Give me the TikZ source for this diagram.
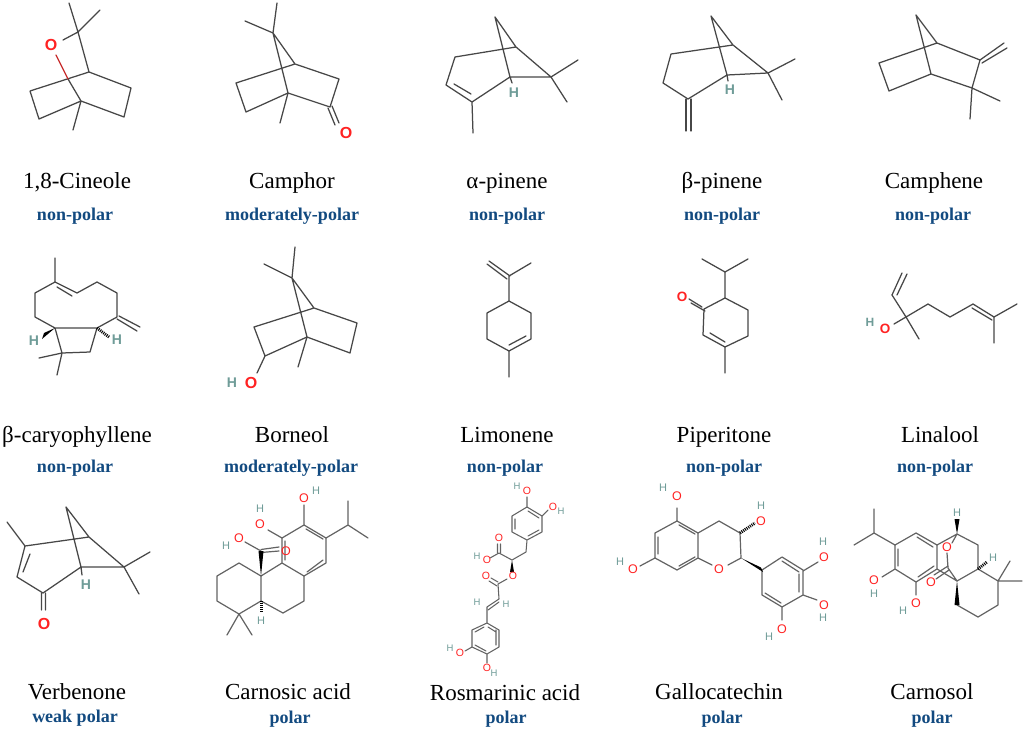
\documentclass[tikz,border=0pt]{standalone}
\usepackage{fontspec}
\setmainfont{Liberation Serif}
\newfontfamily\atomfont{Liberation Sans}
\definecolor{bondc}{HTML}{474747}
\definecolor{oxy}{HTML}{FF2222}
\definecolor{hyd}{HTML}{6F9C98}
\definecolor{polc}{HTML}{124A80}
\tikzset{
  bond/.style={draw=bondc,line width=1.25pt,line cap=round,line join=round},
  thin bond/.style={draw=bondc!85,line width=1.2pt,line cap=round,line join=round},
  fine bond/.style={draw=bondc!85,line width=1.05pt,line cap=round,line join=round},
  red bond/.style={draw=oxy!70!bondc,line width=1.25pt,line cap=round},
  wedge/.style={fill=black,draw=none},
  hash/.style={draw=black,line width=3pt,dash pattern=on 1pt off 1pt},
  cname/.style={inner sep=0pt,anchor=base,font=\fontsize{23}{24}\selectfont,text=black},
  pol/.style={inner sep=0pt,anchor=base,font=\fontsize{18}{20}\selectfont\bfseries,text=polc},
  O/.style={inner sep=0pt,text=oxy,font=\atomfont\bfseries\fontsize{16}{16}\selectfont},
  H/.style={inner sep=0pt,text=hyd,font=\atomfont\bfseries\fontsize{14}{14}\selectfont},
  Om/.style={inner sep=0pt,text=oxy,font=\atomfont\bfseries\fontsize{13.5}{14}\selectfont},
  Hm/.style={inner sep=0pt,text=hyd,font=\atomfont\bfseries\fontsize{12}{12}\selectfont},
  o/.style={inner sep=0pt,text=oxy,font=\atomfont\fontsize{12.5}{13}\selectfont},
  h/.style={inner sep=0pt,text=hyd,font=\atomfont\fontsize{11}{11}\selectfont},
  os/.style={inner sep=0pt,text=oxy,font=\atomfont\fontsize{10.5}{11}\selectfont},
  hs/.style={inner sep=0pt,text=hyd,font=\atomfont\fontsize{9.5}{10}\selectfont}
}
\begin{document}
\begin{tikzpicture}[x=1pt,y=-1pt]
\useasboundingbox[fill=white] (0,0) rectangle (1024,730);

% ---- row 1 ----
% 1,8-Cineole
\draw[bond] (69,3)--(78,32)--(100,10) (78,32)--(89,72)--(131,88)--(124,117)--(81,101)--(73,130)
  (81,101)--(39,119)--(30,91)--(89,72) (68,79)--(81,101) (78,32)--(63,40);
\draw[red bond] (56,55)--(68,79);
\node[O] (o1) at (51,45) {O};
% Camphor
\draw[bond] (277,3)--(273,33)--(245,21) (273,33)--(295,64)--(339,79)--(330,107)--(288,93)--(280,123)
  (288,93)--(246,112)--(236,83)--(295,64) (273,33)--(288,93);
\draw[bond] (328,108)--(335,125) (332,106)--(339,123);
\node[O] (o2) at (346,133) {O};
% alpha-pinene
\draw[bond] (495,17)--(516,47)--(455,57)--(446,85)--(472,102)--(510,77)--(551,77)--(516,47)
  (495,17)--(510,77) (551,77)--(578,60) (551,77)--(567,102) (472,102)--(473,133) (510,77)--(512,83);
\draw[bond] (454,84)--(471,94);
\node[H] (h3) at (514,93) {H};
% beta-pinene
\draw[bond] (711,16)--(733,45)--(671,54)--(663,83)--(688,99)--(727,75)--(768,73)--(733,45)
  (711,16)--(727,75) (768,73)--(795,59) (768,73)--(782,100) (727,75)--(728,81);
\draw[bond] (686,99)--(686,131) (691,99)--(691,131);
\node[H] (h4) at (730,90) {H};
% Camphene
\draw[bond] (916,15)--(937,43)--(879,63)--(889,91)--(931,74)--(972,88)--(980,60)--(937,43)
  (916,15)--(931,74) (972,88)--(1000,101) (972,88)--(970,119);
\draw[bond] (980,60)--(1004,43) (982,63)--(1007,48);

\node[cname] (n1) at (77,188.5) {1,8-Cineole};
\node[cname] (n2) at (292,188.5) {Camphor};
\node[cname] (n3) at (507,188.5) {α-pinene};
\node[cname] (n4) at (722,188.5) {β-pinene};
\node[cname] (n5) at (934,188.5) {Camphene};
\node[pol] (p1) at (75,220) {non-polar};
\node[pol] (p2) at (292,220) {moderately-polar};
\node[pol] (p3) at (507,220) {non-polar};
\node[pol] (p4) at (722,220) {non-polar};
\node[pol] (p5) at (933,220) {non-polar};

% ---- row 2 ----
% beta-caryophyllene
\draw[bond] (55,258)--(55,282)--(35,293)--(35,317)--(55,328)--(97,328)--(117,317)--(117,293)--(97,282)--(77,293)--(55,282)
  (55,328)--(62,353)--(90,352)--(97,328) (62,353)--(39,358) (62,353)--(57,375);
\draw[bond] (57,287)--(72,296) (119,316)--(140,327) (117,319)--(137,331);
\fill[wedge] (55,328)--(44,333)--(42,339)--cycle;
\draw[hash] (97,328)--(109,337);
\node[H] (h6a) at (34,341) {H};
\node[H] (h6b) at (117,340) {H};
% Borneol
\draw[bond] (295,247)--(292,278)--(264,264) (292,278)--(314,308)--(357,323)--(350,353)--(307,337)--(298,367)
  (307,337)--(265,356)--(254,327)--(314,308) (292,278)--(307,337) (265,356)--(257,373);
\node[O] (o7) at (251,383) {O};
\node[H] (h7) at (232,383) {H};
% Limonene
\draw[bond] (531,263)--(509,276)--(509,301)--(531,313)--(531,339)--(509,351)--(487,339)--(487,313)--(509,301) (509,351)--(509,377);
\draw[bond] (510,276)--(489,261) (507,279)--(487,264) (526,336)--(509,345);
% Piperitone
\draw[bond] (702,259)--(725,272)--(748,259) (725,272)--(725,298)--(748,310)--(748,336)--(725,347)--(703,335)--(704,309)--(725,298) (725,347)--(725,373);
\draw[bond] (710,333)--(725,342) (705,311)--(691,303) (702,307)--(689,299);
\node[Om] (o9) at (682,297) {O};
% Linalool
\draw[bond] (892,295)--(906,317)--(928,304)--(950,317)--(973,304)--(994,317)--(1017,304) (994,317)--(994,343) (906,317)--(919,339) (906,317)--(894,324);
\draw[bond] (892,295)--(902,273) (897,295)--(907,274) (972,308)--(992,320);
\node[Om] (o10) at (885,329) {O};
\node[Hm] (h10) at (870,322) {H};

\node[cname] (n6) at (77,442.5) {β-caryophyllene};
\node[cname] (n7) at (292,442.5) {Borneol};
\node[cname] (n8) at (507,442.5) {Limonene};
\node[cname] (n9) at (724,442) {Piperitone};
\node[cname] (n10) at (940,442) {Linalool};
\node[pol] (p6) at (75,472) {non-polar};
\node[pol] (p7) at (291,472) {moderately-polar};
\node[pol] (p8) at (505,472) {non-polar};
\node[pol] (p9) at (724,472) {non-polar};
\node[pol] (p10) at (935,472) {non-polar};

% ---- row 3 ----
% Verbenone
\draw[bond] (66,507)--(89,537)--(25,546)--(17,577)--(43,593)--(81,567)--(124,567)--(89,537)
  (66,507)--(81,567) (25,546)--(7,522) (124,567)--(150,552) (124,567)--(139,594) (81,567)--(82,575);
\draw[bond] (30,554)--(23,572) (41.5,593)--(41.5,610) (45.5,593)--(45.5,610);
\node[O] (o11) at (44,624) {O};
\node[H] (h11) at (86,585) {H};
% Carnosic acid
\draw[thin bond] (261,576)--(239,563)--(217,576)--(217,601)--(239,614)--(261,601)--(261,576)
  (261,576)--(282,563)--(304,576)--(304,601)--(283,613)--(261,601)
  (282,563)--(282,538)--(304,525)--(326,538)--(326,563)--(304,576)
  (326,538)--(348,525)--(348,501) (348,525)--(368,538) (304,525)--(304,505) (282,538)--(268,530)
  (261,551)--(245,542) (239,614)--(227,635) (239,614)--(252,635);
\draw[thin bond] (285,541)--(285,560) (306,529)--(323,539) (323,560)--(307,572)
  (261,549.5)--(279,547) (261,552.5)--(279,551);
\fill[wedge] (261,576)--(258.5,551)--(263.5,551)--cycle;
\draw[hash] (261,601)--(261,613);
\node[o] (o12a) at (304,498) {O};
\node[h] (h12a) at (316,491) {H};
\node[o] (o12b) at (260,524) {O};
\node[h] (h12b) at (260,509) {H};
\node[o] (o12c) at (286,551) {O};
\node[o] (o12d) at (239,538) {O};
\node[h] (h12d) at (226,546) {H};
\node[h] (h12e) at (261,621) {H};
% Rosmarinic acid
\draw[fine bond] (527,507)--(542,516)--(542,532)--(527,540)--(512,532)--(512,516)--cycle
  (527,507)--(527,497) (542,516)--(548,510) (527,540)--(526,552)--(512,560)--(499,553)--(490,558)
  (507,579)--(498,584)--(499,599)--(487,607)--(487,623)--(499,630)--(499,647)--(487,654)--(472,647)--(472,630)--(487,623)
  (472,647)--(465,651) (487,654)--(487,663);
\draw[fine bond] (515,519)--(515,529) (528,511)--(539,518) (528,536)--(539,530)
  (497.5,553)--(497.5,544) (500.5,553)--(500.5,544) (498,582)--(491,578) (497,586)--(489,581)
  (499,602)--(488,610) (496,630)--(496,645)
  (488,627)--(496,632) (475,632)--(484,627) (475,645)--(486,651);
\fill[black] (512,560)--(510,572)--(514,572)--cycle;
\node[os] (o13a) at (527,491) {O};
\node[hs] (h13a) at (517,486) {H};
\node[os] (o13b) at (553,507) {O};
\node[hs] (h13b) at (561,511) {H};
\node[os] (o13c) at (499,538) {O};
\node[os] (o13d) at (487,560) {O};
\node[hs] (h13d) at (477,556) {H};
\node[os] (o13e) at (513,576) {O};
\node[os] (o13f) at (486,576) {O};
\node[hs] (h13g) at (506,604) {H};
\node[hs] (h13h) at (477,602) {H};
\node[os] (o13i) at (460,653) {O};
\node[hs] (h13i) at (450,648) {H};
\node[os] (o13j) at (487,668) {O};
\node[hs] (h13j) at (494,673) {H};
% Gallocatechin
\draw[thin bond] (677,521)--(698,533)--(698,558)--(677,570)--(655,558)--(655,533)--cycle
  (698,533)--(719,521)--(740,533)--(741,558)--(728,565) (712,565)--(698,558)
  (677,521)--(677,508) (655,558)--(640,566)
  (762,570)--(782,557)--(803,570)--(803,595)--(782,607)--(762,595)--cycle
  (782,607)--(782,620) (803,571)--(818,562) (803,595)--(817,600);
\draw[thin bond] (658,537)--(658,554) (679,525)--(695,534) (679,566)--(695,557)
  (782,561)--(799,572) (799,574)--(799,592) (765,593)--(781,603);
\draw[hash] (740,533)--(755,523);
\fill[wedge] (741,558)--(761,567.5)--(763,572)--cycle;
\node[o] (o14a) at (677,496) {O};
\node[h] (h14a) at (663,488) {H};
\node[o] (o14b) at (633,569) {O};
\node[h] (h14b) at (620,562) {H};
\node[o] (o14c) at (719,569) {O};
\node[o] (o14d) at (761,521) {O};
\node[h] (h14d) at (761,506) {H};
\node[o] (o14e) at (782,629) {O};
\node[h] (h14e) at (769,637) {H};
\node[o] (o14f) at (824,557) {O};
\node[h] (h14f) at (823,542) {H};
\node[o] (o14g) at (824,605) {O};
\node[h] (h14g) at (823,618) {H};
% Carnosol
\draw[thin bond] (874,509)--(874,533)--(854,545) (874,533)--(895,545)--(916,533)--(937,545)--(937,569)--(916,582)--(895,569)--(895,545)
  (895,569)--(882,577) (916,582)--(916,595)
  (937,545)--(957,534)--(978,545)--(978,569)--(957,581)--(937,569)
  (978,569)--(998,581)--(998,605)--(978,617)--(957,605)
  (998,581)--(1010,561) (998,581)--(1022,581)
  (957,534)--(952,543) (947,553)--(948,568)--(957,581);
\draw[thin bond] (917,537)--(933,547) (898,549)--(898,566) (934,566)--(918,577)
  (948,566)--(934,575) (949,570)--(936,579);
\fill[wedge] (957,534)--(954.5,519)--(959.5,519)--cycle;
\fill[wedge] (957,581)--(954.5,605)--(959.5,605)--cycle;
\draw[hash] (978,569)--(987,562);
\node[h] (h15a) at (957,513) {H};
\node[h] (h15b) at (993,558) {H};
\node[o] (o15a) at (947,547) {O};
\node[o] (o15b) at (931,582) {O};
\node[o] (o15c) at (874,580) {O};
\node[h] (h15c) at (874,594) {H};
\node[o] (o15d) at (916,603) {O};
\node[h] (h15d) at (903,611) {H};

\node[cname] (n11) at (77,699) {Verbenone};
\node[cname] (n12) at (288,699) {Carnosic acid};
\node[cname] (n13) at (505,700) {Rosmarinic acid};
\node[cname] (n14) at (719,699) {Gallocatechin};
\node[cname] (n15) at (932,699) {Carnosol};
\node[pol] (p11) at (75,722) {weak polar};
\node[pol] (p12) at (290,723) {polar};
\node[pol] (p13) at (506,723) {polar};
\node[pol] (p14) at (722,723) {polar};
\node[pol] (p15) at (932,723) {polar};
\end{tikzpicture}
\end{document}
